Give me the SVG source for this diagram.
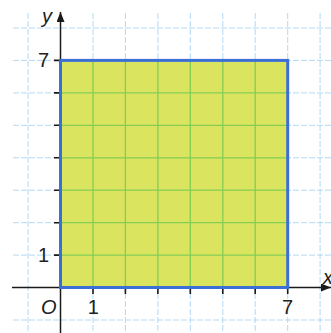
<svg xmlns="http://www.w3.org/2000/svg" width="331" height="333" viewBox="0 0 331 333">
<defs>
<style>
.grid{stroke:#b2d9f4;stroke-width:1;stroke-dasharray:6 2;fill:none}
.inner{stroke:#84cd55;stroke-width:1.3;fill:none}
.axis{stroke:#1a1a1a;stroke-width:1.5;fill:none}
.tick{stroke:#1a1a1a;stroke-width:1.6}
.lbl{font-family:"Liberation Sans",Arial,sans-serif;font-size:20px;fill:#222}
.it{font-style:italic}
</style>
<marker id="arr" viewBox="0 0 10 8" refX="10" refY="4" markerWidth="10" markerHeight="8" markerUnits="userSpaceOnUse" orient="auto">
<path d="M0,0 L10,4 L0,8 Z" fill="#1a1a1a"/>
</marker>
</defs>
<rect width="331" height="333" fill="#ffffff"/>
<g id="grid" class="grid">
<path d="M28.1,13V333M60.5,13V333M93,13V333M125.4,13V333M157.9,13V333M190.3,13V333M222.8,13V333M255.2,13V333M287.7,13V333M320.1,13V333"/>
<path d="M13,28H331M13,60.4H331M13,92.9H331M13,125.3H331M13,157.8H331M13,190.2H331M13,222.7H331M13,255.1H331M13,287.5H331M13,320H331"/>
</g>
<g id="square">
<rect x="60.5" y="60.4" width="227.2" height="227.1" fill="#dae45f"/>
<path class="inner" d="M93,60.4V287.5M125.4,60.4V287.5M157.9,60.4V287.5M190.3,60.4V287.5M222.8,60.4V287.5M255.2,60.4V287.5M60.5,92.9H287.7M60.5,125.3H287.7M60.5,157.8H287.7M60.5,190.2H287.7M60.5,222.7H287.7M60.5,255.1H287.7"/>
</g>
<g id="connectors">
<line class="axis" x1="12" y1="287.5" x2="331" y2="287.5" marker-end="url(#arr)"/>
<line class="axis" x1="60.5" y1="333" x2="60.5" y2="12" marker-end="url(#arr)"/>
<path class="tick" d="M93,287.5V294M125.4,287.5V294M157.9,287.5V294M190.3,287.5V294M222.8,287.5V294M255.2,287.5V294M287.7,287.5V294"/>
<path class="tick" d="M54,60.4H60.5M54,92.9H60.5M54,125.3H60.5M54,157.8H60.5M54,190.2H60.5M54,222.7H60.5M54,255.1H60.5"/>
</g>
<g id="border">
<rect x="60.5" y="60.4" width="227.2" height="227.1" fill="none" stroke="#3b6fd6" stroke-width="3"/>
</g>
<g id="labels">
<text class="lbl it" x="42" y="23">y</text>
<text class="lbl it" x="323" y="284">x</text>
<text class="lbl" x="49" y="67" text-anchor="end">7</text>
<text class="lbl" x="49" y="262" text-anchor="end">1</text>
<text class="lbl it" x="41" y="314">O</text>
<text class="lbl" x="93.3" y="314" text-anchor="middle">1</text>
<text class="lbl" x="287.5" y="314" text-anchor="middle">7</text>
</g>
</svg>
